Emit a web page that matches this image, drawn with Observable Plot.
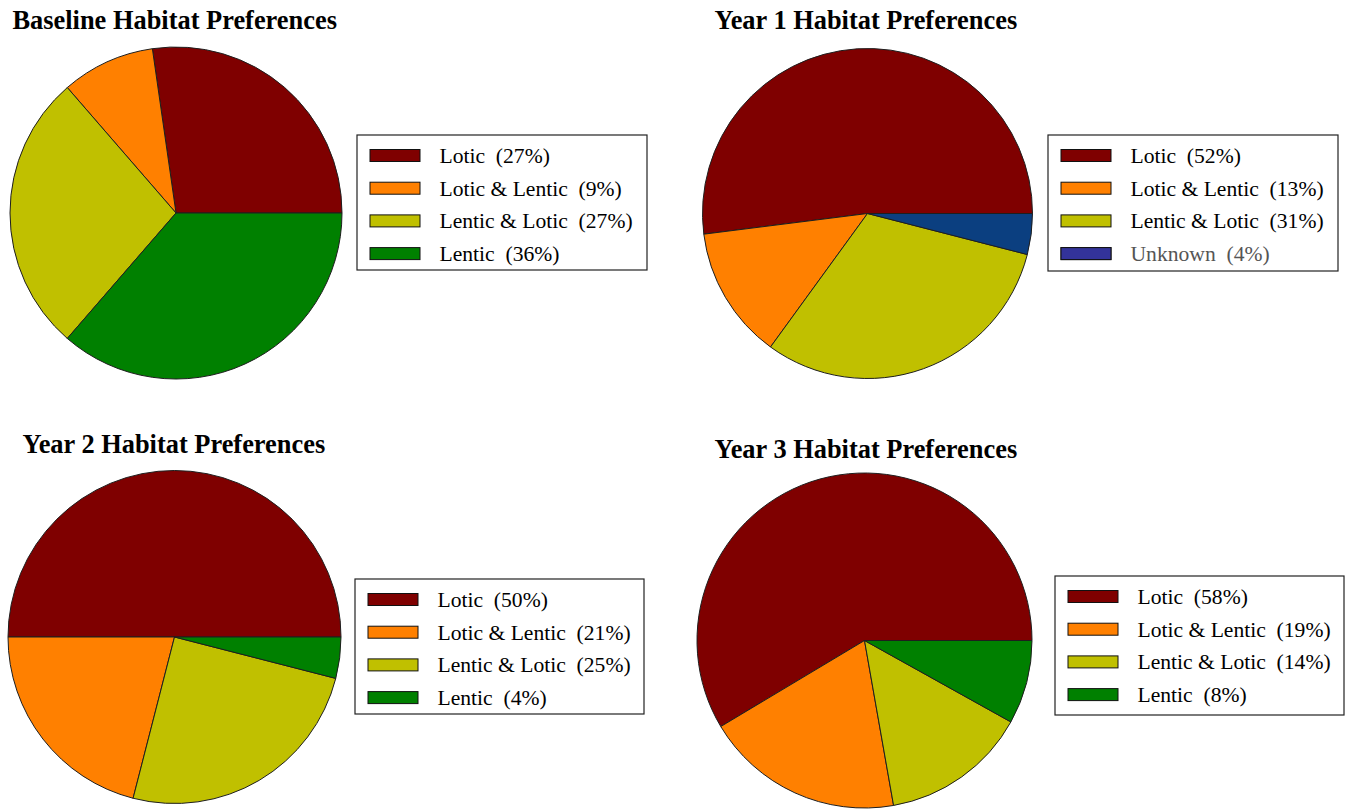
<!DOCTYPE html>
<html>
<head>
<meta charset="utf-8">
<script src="https://cdn.jsdelivr.net/npm/d3@7"></script>
<script src="https://cdn.jsdelivr.net/npm/@observablehq/plot@0.6"></script>
<style>
  html, body { margin: 0; padding: 0; background: #fff; }
  svg text { white-space: pre; }
</style>
</head>
<body>
<div id="chart"></div>
<script>
// Habitat categories shared by all four pies
const habitatCategories = ["Lotic", "Lotic & Lentic", "Lentic & Lotic", "Lentic", "Unknown"];

const panelTitles = [
  "Baseline Habitat Preferences",
  "Year 1 Habitat Preferences",
  "Year 2 Habitat Preferences",
  "Year 3 Habitat Preferences"
];

// Shares (%) per survey
const baselineCategories = ["Lotic", "Lotic & Lentic", "Lentic & Lotic", "Lentic"];
const baselineShares = [27, 9, 27, 36];

const year1Categories = ["Lotic", "Lotic & Lentic", "Lentic & Lotic", "Unknown"];
const year1Shares = [52, 13, 31, 4];

const year2Categories = ["Lotic", "Lotic & Lentic", "Lentic & Lotic", "Lentic"];
const year2Shares = [50, 21, 25, 4];

const year3Categories = ["Lotic", "Lotic & Lentic", "Lentic & Lotic", "Lentic"];
const year3Shares = [58, 19, 14, 8];

// Styling
const sliceColors = ["#7f0000", "#ff8000", "#c0c000", "#008000", "#0b3f80"];
const unknownSwatch = "#33339a";
const serif = "'Liberation Serif', 'Times New Roman', Times, serif";

// Panel geometry: pie centre/radius, title anchor, legend box
const panelLayout = [
  {cx: 176,   cy: 213,   r: 166,   tx: 12,  ty: 20,  bx: 357,  by: 135, bw: 290, bh: 135},
  {cx: 867.5, cy: 213.5, r: 165,   tx: 714, ty: 20,  bx: 1048, by: 135, bw: 290, bh: 136},
  {cx: 174.5, cy: 637,   r: 166.5, tx: 22,  ty: 444, bx: 355,  by: 579, bw: 289, bh: 135},
  {cx: 864.5, cy: 640.5, r: 167.5, tx: 714, ty: 449, bx: 1055, by: 576, bw: 289, bh: 139}
];
const rowStep = 32.7, rowOffset = 20.5, swatchOffset = 13, swatchWidth = 50, swatchHeight = 12, textOffset = 82;

const surveys = [
  [baselineCategories, baselineShares],
  [year1Categories, year1Shares],
  [year2Categories, year2Shares],
  [year3Categories, year3Shares]
].map(([cats, shares], p) => ({
  title: panelTitles[p],
  layout: panelLayout[p],
  rows: cats.map((category, i) => ({category, share: shares[i], panel: p, row: i}))
}));

const legendRows = surveys.flatMap(s => s.rows.map(d => {
  const L = s.layout;
  const yc = L.by + rowOffset + d.row * rowStep;
  return {
    ...d,
    label: `${d.category}  (${d.share}%)`,
    sx1: L.bx + swatchOffset, sx2: L.bx + swatchOffset + swatchWidth,
    sy1: yc - swatchHeight / 2, sy2: yc + swatchHeight / 2,
    tx: L.bx + textOffset, ty: yc
  };
}));

// Pie drawn as a function mark: slices run counter-clockwise from 3 o'clock
function pieMark(survey) {
  return (index, scales) => {
    const L = survey.layout;
    const cx = scales.x(L.cx), cy = scales.y(L.cy);
    const r = scales.x(L.cx + L.r) - cx;
    const arcs = d3.pie()
      .sort(null)
      .value(d => d.share)
      .startAngle(Math.PI / 2)
      .endAngle(Math.PI / 2 - 2 * Math.PI)(survey.rows);
    const arc = d3.arc().innerRadius(0).outerRadius(r);
    const g = d3.create("svg:g").attr("transform", `translate(${cx},${cy})`);
    g.selectAll("path")
      .data(arcs)
      .join("path")
      .attr("d", arc)
      .attr("fill", d => scales.color(d.data.category))
      .attr("stroke", "#1e1e1e")
      .attr("stroke-width", 1)
      .attr("stroke-linejoin", "round");
    return g.node();
  };
}

const W = 1349, H = 809;

const chart = Plot.plot({
  width: W,
  height: H,
  margin: 0,
  x: {domain: [0, W], range: [0, W], axis: null},
  y: {domain: [0, H], range: [0, H], axis: null},
  color: {type: "ordinal", domain: habitatCategories, range: sliceColors},
  style: {background: "#fff", fontFamily: serif},
  marks: [
    ...surveys.map(pieMark),
    // legend frames
    Plot.rect(surveys, {
      x1: d => d.layout.bx, x2: d => d.layout.bx + d.layout.bw,
      y1: d => d.layout.by, y2: d => d.layout.by + d.layout.bh,
      fill: "#fff", stroke: "#222", strokeWidth: 1.2
    }),
    // legend swatches
    Plot.rect(legendRows, {
      x1: "sx1", x2: "sx2", y1: "sy1", y2: "sy2",
      fill: "category", stroke: "#111", strokeWidth: 1
    }),
    Plot.rect(legendRows.filter(d => d.category === "Unknown"), {
      x1: "sx1", x2: "sx2", y1: "sy1", y2: "sy2",
      fill: unknownSwatch, stroke: "#111", strokeWidth: 1
    }),
    // legend labels
    Plot.text(legendRows, {
      x: "tx", y: "ty", text: "label",
      textAnchor: "start", lineAnchor: "middle",
      fontSize: 21.6, fontFamily: serif,
      fill: d => d.category === "Unknown" ? "#555" : "#000"
    }),
    // panel titles
    Plot.text(surveys, {
      x: d => d.layout.tx, y: d => d.layout.ty, text: "title",
      textAnchor: "start", lineAnchor: "middle",
      fontSize: 26.4, fontWeight: "bold", fontFamily: serif, fill: "#000"
    })
  ]
});

document.getElementById("chart").appendChild(chart);
</script>
</body>
</html>
